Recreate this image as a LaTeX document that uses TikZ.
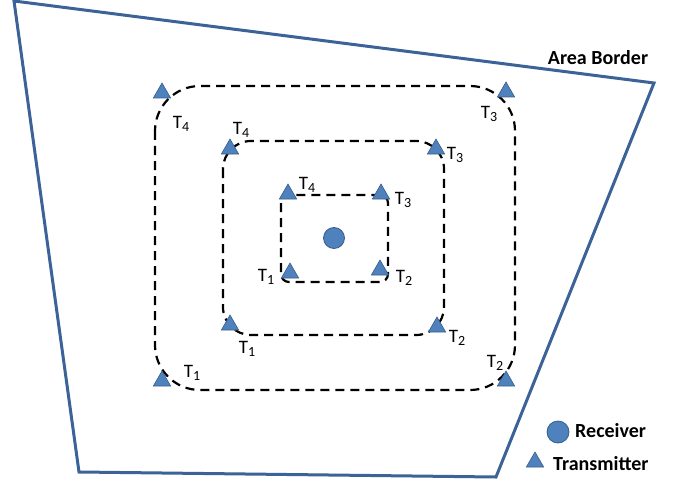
\documentclass[tikz,border=0pt]{standalone}
\usepackage{fontspec}
\setmainfont{Carlito}
\usetikzlibrary{shapes.geometric}
\definecolor{borderblue}{HTML}{3B6397}
\definecolor{fillblue}{HTML}{4F81BD}
\definecolor{edgeblue}{HTML}{385D8A}
\newcommand{\tsub}[1]{T\raisebox{-0.35ex}{\fontsize{14}{14}\selectfont #1}}
\tikzset{
  tri/.style={regular polygon, regular polygon sides=3, fill=fillblue, draw=edgeblue, line width=0.6pt, minimum size=20pt, inner sep=0pt},
  rcv/.style={circle, fill=fillblue, draw=edgeblue, line width=0.8pt, minimum size=20pt, inner sep=0pt},
  ring/.style={draw=black, line width=2.2pt, dash pattern=on 9pt off 6pt},
  lab/.style={font=\fontsize{19}{19}\selectfont, inner sep=0pt},
  bold/.style={font=\bfseries\fontsize{20}{20}\selectfont, inner sep=0pt},
}
\begin{document}
\begin{tikzpicture}[x=1pt,y=-1pt]
\useasboundingbox (0,0) rectangle (676,481);
% area border
\coordinate (c1) at (14,1);
\coordinate (c2) at (654,83);
\coordinate (c3) at (496,477);
\coordinate (c4) at (79,472);
\draw[borderblue, line width=3pt, line join=miter] (c1) -- (c2) -- (c3) -- (c4) -- cycle;
\node[bold] (ab) at (598,58) {Area Border};
% rings
\draw[ring, rounded corners=45pt] (155,86) rectangle (515,390);
\draw[ring, rounded corners=28pt] (223,141) rectangle (444,335);
\draw[ring, rounded corners=8pt] (281,195) rectangle (388,282);
% receiver
\node[rcv, minimum size=21pt] (rx) at (334,238) {};
% outer transmitters
\node[tri] (o4) at (162,93) {};
\node[tri] (o3) at (506,92) {};
\node[tri] (o1) at (162,381) {};
\node[tri] (o2) at (506,381) {};
% middle
\node[tri] (m4) at (230,149) {};
\node[tri] (m3) at (436,149) {};
\node[tri] (m1) at (230,325) {};
\node[tri] (m2) at (437,327) {};
% inner
\node[tri] (i4) at (288,194) {};
\node[tri] (i3) at (381,194) {};
\node[tri] (i1) at (290,273) {};
\node[tri] (i2) at (380,270) {};
% labels
\node[lab] (lo4) at (181,124) {\tsub{4}};
\node[lab] (lo3) at (489,114) {\tsub{3}};
\node[lab] (lo1) at (192,373) {\tsub{1}};
\node[lab] (lo2) at (495,363) {\tsub{2}};
\node[lab] (lm4) at (241,130) {\tsub{4}};
\node[lab] (lm3) at (455,155) {\tsub{3}};
\node[lab] (lm1) at (247,349) {\tsub{1}};
\node[lab] (lm2) at (457,338) {\tsub{2}};
\node[lab] (li4) at (307,185) {\tsub{4}};
\node[lab] (li3) at (403,200) {\tsub{3}};
\node[lab] (li1) at (266,277) {\tsub{1}};
\node[lab] (li2) at (404,278) {\tsub{2}};
% legend
\node[rcv, minimum size=22pt] (lr) at (558,432) {};
\node[tri] (lt) at (535,462) {};
\node[bold, anchor=west] (lrt) at (575,431) {Receiver};
\node[bold, anchor=west] (ltt) at (553,464) {Transmitter};
\end{tikzpicture}
\end{document}
